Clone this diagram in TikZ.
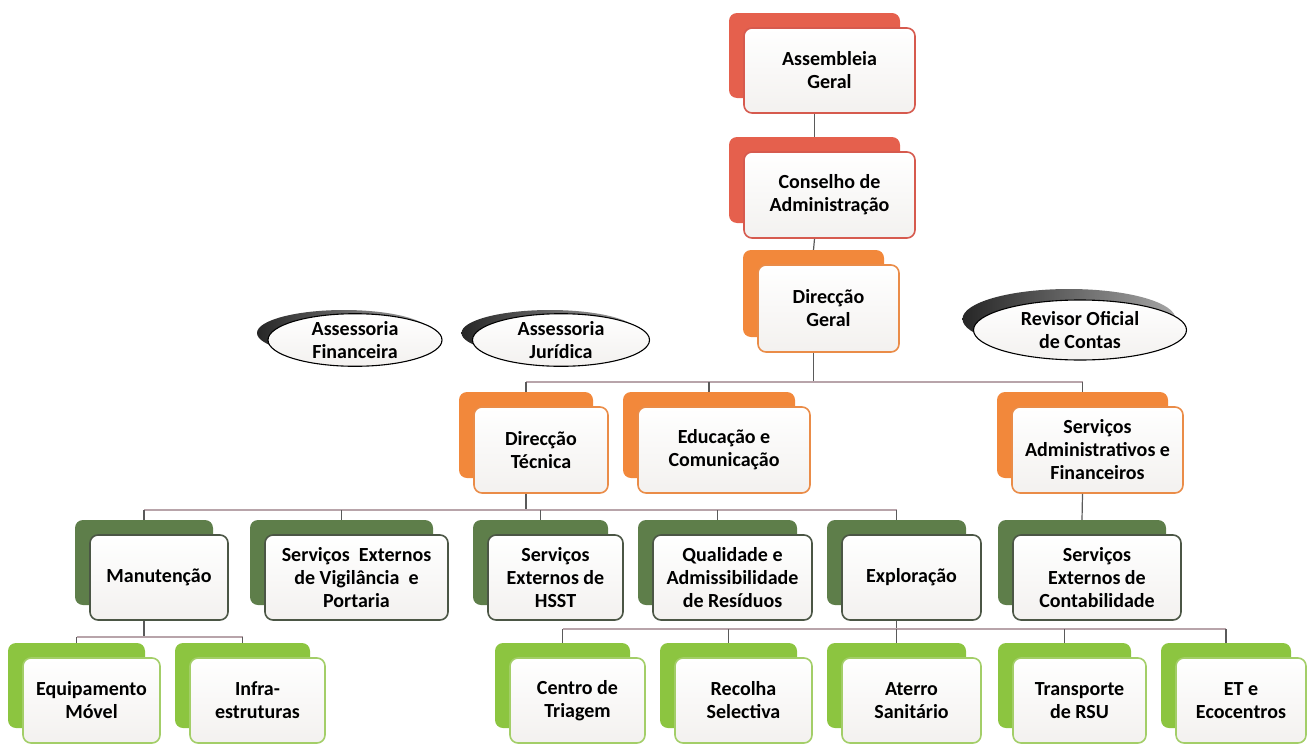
\documentclass[tikz,border=0pt]{standalone}
\usepackage{fontspec}
\setmainfont{Carlito}
\usetikzlibrary{shapes.geometric}

\definecolor{redfill}{HTML}{E5604D}
\definecolor{redline}{HTML}{D65A4E}
\definecolor{orangefill}{HTML}{F2883B}
\definecolor{orangeline}{HTML}{EA8C48}
\definecolor{darkfill}{HTML}{5E7E4A}
\definecolor{darkline}{HTML}{4B5645}
\definecolor{limefill}{HTML}{8CC540}
\definecolor{limeline}{HTML}{A3CE68}
\definecolor{linkgray}{HTML}{5A5A5A}
\definecolor{busgray}{HTML}{B8A4AA}
\definecolor{paper}{HTML}{F3F1EF}

\begin{document}
\begin{tikzpicture}[x=1pt, y=-1pt,
    front/.style={draw=#1, line width=1.6pt, rounded corners=8pt,
      top color=white, bottom color=paper, inner sep=2pt, align=center,
      font=\fontsize{20}{23}\selectfont\bfseries},
    back/.style={fill=#1, rounded corners=8pt, inner sep=0pt},
    ell/.style={ellipse, draw=black, line width=1.1pt, top color=white,
      bottom color=paper, inner sep=0pt, align=center,
      font=\fontsize{20}{23}\selectfont\bfseries},
    ellshadow/.style={ellipse, left color=black!85, right color=black!35, inner sep=0pt},
    link/.style={draw=linkgray, line width=1.2pt},
    bus/.style={draw=busgray, line width=1.2pt}]
    \useasboundingbox (0,0) rectangle (1311,744);

    % topo
    \node[back=redfill, minimum width=171pt, minimum height=85pt] (agb) at (814.5,55.5) {};
    \node[front=redline, minimum width=171pt, minimum height=85pt] (ag) at (829.5,70.5) {Assembleia\\Geral};
    \node[back=redfill, minimum width=171pt, minimum height=86pt] (cab) at (814.5,180) {};
    \node[front=redline, minimum width=171pt, minimum height=86pt] (ca) at (829.5,195) {Conselho de\\Administração};
    \node[back=orangefill, minimum width=141pt, minimum height=87pt] (dgb) at (813.5,293.5) {};
    \node[front=orangeline, minimum width=141pt, minimum height=87pt] (dg) at (828.5,308.5) {Direcção\\Geral};

    % assessorias
    \node[ellshadow, minimum width=174pt, minimum height=46pt] (afs) at (344,333) {};
    \node[ell, minimum width=174pt, minimum height=46pt] (af) at (355,340) {Assessoria\\Financeira};
    \node[ellshadow, minimum width=177pt, minimum height=46pt] (ajs) at (550,333) {};
    \node[ell, minimum width=177pt, minimum height=46pt] (aj) at (561,340) {Assessoria\\Jurídica};
    \node[ellshadow, minimum width=213pt, minimum height=60pt] (rocs) at (1069,319) {};
    \node[ell, minimum width=213pt, minimum height=60pt] (roc) at (1080,330) {Revisor Oficial\\de Contas};

    % direccoes
    \node[back=orangefill, minimum width=134pt, minimum height=86pt] (dtb) at (526,435) {};
    \node[front=orangeline, minimum width=134pt, minimum height=86pt] (dt) at (541,450) {Direcção\\Técnica};
    \node[back=orangefill, minimum width=172pt, minimum height=86pt] (ecb) at (709,435) {};
    \node[front=orangeline, minimum width=172pt, minimum height=86pt] (ec) at (724,450) {Educação e\\Comunicação};
    \node[back=orangefill, minimum width=171pt, minimum height=86pt] (safb) at (1082.5,435) {};
    \node[front=orangeline, minimum width=171pt, minimum height=86pt] (saf) at (1097.5,450) {Serviços\\Administrativos e\\Financeiros};

    % servicos
    \node[back=darkfill, minimum width=138pt, minimum height=85pt] (manb) at (144,562.5) {};
    \node[front=darkline, minimum width=138pt, minimum height=85pt] (man) at (159,577.5) {Manutenção};
    \node[back=darkfill, minimum width=183pt, minimum height=85pt] (sevpb) at (341.5,562.5) {};
    \node[front=darkline, minimum width=183pt, minimum height=85pt] (sevp) at (356.5,577.5) {Serviços\ \ Externos\\de Vigilância\ \ e\\Portaria};
    \node[back=darkfill, minimum width=135pt, minimum height=85pt] (hsstb) at (540.5,562.5) {};
    \node[front=darkline, minimum width=135pt, minimum height=85pt] (hsst) at (555.5,577.5) {Serviços\\Externos de\\HSST};
    \node[back=darkfill, minimum width=159pt, minimum height=85pt] (qarb) at (717.5,562.5) {};
    \node[front=darkline, minimum width=159pt, minimum height=85pt] (qar) at (732.5,577.5) {Qualidade e\\Admissibilidade\\de Resíduos};
    \node[back=darkfill, minimum width=139pt, minimum height=85pt] (explb) at (896.5,562.5) {};
    \node[front=darkline, minimum width=139pt, minimum height=85pt] (expl) at (911.5,577.5) {Exploração};
    \node[back=darkfill, minimum width=168pt, minimum height=85pt] (secb) at (1082,562.5) {};
    \node[front=darkline, minimum width=168pt, minimum height=85pt] (sec) at (1097,577.5) {Serviços\\Externos de\\Contabilidade};

    % sectores
    \node[back=limefill, minimum width=137pt, minimum height=85pt] (emb) at (76.5,685.5) {};
    \node[front=limeline, minimum width=137pt, minimum height=85pt] (em) at (91.5,700.5) {Equipamento\\Móvel};
    \node[back=limefill, minimum width=135pt, minimum height=85pt] (infrab) at (242.5,685.5) {};
    \node[front=limeline, minimum width=135pt, minimum height=85pt] (infra) at (257.5,700.5) {Infra-\\estruturas};
    \node[back=limefill, minimum width=135pt, minimum height=85pt] (ctb) at (562.5,685.5) {};
    \node[front=limeline, minimum width=135pt, minimum height=85pt] (ct) at (577.5,700.5) {Centro de\\Triagem};
    \node[back=limefill, minimum width=137pt, minimum height=85pt] (rsb) at (728.5,685.5) {};
    \node[front=limeline, minimum width=137pt, minimum height=85pt] (rs) at (743.5,700.5) {Recolha\\Selectiva};
    \node[back=limefill, minimum width=139pt, minimum height=85pt] (atsb) at (896.5,685.5) {};
    \node[front=limeline, minimum width=139pt, minimum height=85pt] (ats) at (911.5,700.5) {Aterro\\Sanitário};
    \node[back=limefill, minimum width=133pt, minimum height=85pt] (trb) at (1064.5,685.5) {};
    \node[front=limeline, minimum width=133pt, minimum height=85pt] (tr) at (1079.5,700.5) {Transporte\\de RSU};
    \node[back=limefill, minimum width=130pt, minimum height=85pt] (eteb) at (1226,685.5) {};
    \node[front=limeline, minimum width=130pt, minimum height=85pt] (ete) at (1241,700.5) {ET e\\Ecocentros};

    % ligacoes
    \coordinate (bus2) at (0,382);
    \coordinate (bus3) at (0,510);
    \coordinate (bus4a) at (0,637);
    \coordinate (bus4b) at (0,629);

    \draw[link] (agb |- ag.south) -- (cab.north);
    \draw[link] (cab |- ca.south) -- (dgb.north);

    \draw[link] (dgb |- dg.south) -- (bus2 -| dgb);
    \draw[bus] (bus2 -| dtb) -- (bus2 -| safb);
    \draw[link] (bus2 -| dtb) -- (dtb.north);
    \draw[link] (bus2 -| ecb) -- (ecb.north);
    \draw[link] (bus2 -| safb) -- (safb.north);

    \draw[link] (dtb |- dt.south) -- (bus3 -| dtb);
    \draw[bus] (bus3 -| manb) -- (bus3 -| explb);
    \draw[link] (bus3 -| manb) -- (manb.north);
    \draw[link] (bus3 -| sevpb) -- (sevpb.north);
    \draw[link] (bus3 -| hsstb) -- (hsstb.north);
    \draw[link] (bus3 -| qarb) -- (qarb.north);
    \draw[link] (bus3 -| explb) -- (explb.north);

    \draw[link] (safb |- saf.south) -- (secb.north);

    \draw[link] (manb |- man.south) -- (bus4a -| manb);
    \draw[bus] (bus4a -| emb) -- (bus4a -| infrab);
    \draw[link] (bus4a -| emb) -- (emb.north);
    \draw[link] (bus4a -| infrab) -- (infrab.north);

    \draw[link] (explb |- expl.south) -- (bus4b -| explb);
    \draw[bus] (bus4b -| ctb) -- (bus4b -| eteb);
    \draw[link] (bus4b -| ctb) -- (ctb.north);
    \draw[link] (bus4b -| rsb) -- (rsb.north);
    \draw[link] (bus4b -| atsb) -- (atsb.north);
    \draw[link] (bus4b -| trb) -- (trb.north);
    \draw[link] (bus4b -| eteb) -- (eteb.north);

  \end{tikzpicture}
\end{document}
